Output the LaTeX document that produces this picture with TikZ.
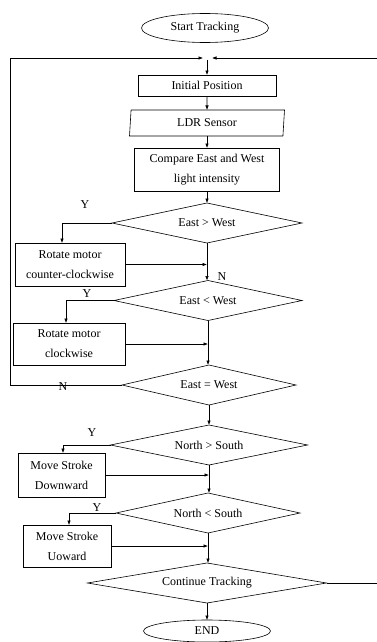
\documentclass[tikz,border=0pt]{standalone}
\usepackage{fontspec}
\setmainfont{Liberation Serif}
\usetikzlibrary{shapes.geometric,arrows.meta}
\tikzset{
  boite/.style={
    draw, line width=0.6pt,
    shape=rectangle, align=center,
    outer sep=0, inner sep=0
  },
  losange/.style={
    draw, line width=0.6pt,
    shape=diamond, aspect=5,
    outer sep=0, inner sep=0,
    minimum height=40
  },
  ovale/.style={
    draw, line width=0.6pt,
    shape=ellipse,
    outer sep=0, inner sep=0,
    minimum width=127
  },
  parallelo/.style={
    draw, line width=0.6pt,
    shape=trapezium, trapezium left angle=79, trapezium right angle=101,
    trapezium stretches body,
    outer sep=0, inner sep=0
  },
  oui/.style={inner sep=0}
}

\begin{document}
\begin{tikzpicture}[x=1pt,y=-1pt,line width=0.6pt,>={Latex[length=4.5pt,width=3.5pt]},
  every node/.style={font=\fontsize{12}{20}\selectfont}]
\useasboundingbox (0,0) rectangle (377,642);

%%%%%%%%% start and main column
\node[ovale, minimum height=29] (start) at (205,28) {Start Tracking};
\node[boite, minimum width=138, minimum height=21] (init) at (207,85.5) {Initial Position};
\node[parallelo, minimum width=155, minimum height=26] (ldr) at (207,123) {LDR Sensor};
\node[boite, minimum width=145, minimum height=43] (comp) at (207,169.5) {Compare East and West\\light intensity};

%%%east / west
\node[losange, minimum width=190] (ew1) at (207,223) {East > West};
\node[losange, minimum width=188] (ew2) at (208,300.5) {East < West};
\node[losange, minimum width=174] (ew3) at (209,385) {East = West};
\node[boite, minimum width=110, minimum height=43] (rot1) at (70,264.5) {Rotate motor\\counter-clockwise};
\node[boite, minimum width=112, minimum height=42] (rot2) at (69,344) {Rotate motor\\clockwise};

%%%north / south
\node[losange, minimum width=197] (ns1) at (209,445) {North > South};
\node[losange, minimum width=184] (ns2) at (208,513) {North < South};
\node[boite, minimum width=87, minimum height=44] (down) at (61.5,475) {Move Stroke\\Downward};
\node[boite, minimum width=88, minimum height=42] (up) at (67,546) {Move Stroke\\Uoward};

%%%end
\node[losange, minimum width=239] (ct) at (207,583) {Continue Tracking};
\node[ovale, minimum height=22] (fin) at (207,631) {END};

%%%%%%%%% loop back
\coordinate (railG) at (10,58);
\coordinate (railD) at (381,58);
\coordinate (arrG) at (203,58);
\coordinate (arrD) at (212,58);
\coordinate (depart) at (207,60);

\draw[->] (ew3.west) -| (railG) -- (arrG);
\draw[->] (ct.east) -| (railD) -- (arrD);
\draw[->] (depart) -- (init);

%%%%%%%%% main flow
\draw[->] (init) -- (ldr);
\draw[->] (ldr) -- (comp);
\draw[->] (comp) -- (ew1);
\draw[->] (ew1.south) -- (ew1.south |- ew2.north);
\draw[->] (ew2.south) -- (ew2.south |- ew3.north);
\draw[->] (ew3.south) -- (ew3.south |- ns1.north);
\draw[->] (ns1.south) -- (ns1.south |- ns2.north);
\draw[->] (ns2.south) -- (ns2.south |- ct.north);
\draw[->] (ct) -- (fin);

%%%%%%%%% yes branches
\draw[->] (ew1.west) -| ([xshift=-8]rot1.north);
\draw[->] (ew2.west) -| ([xshift=-3]rot2.north);
\draw[->] (ns1.west) -| ([xshift=1.5]down.north);
\draw[->] (ns2.west) -| ([xshift=2]up.north);

\draw[->] (rot1.east) -- (rot1.east -| ew1.south);
\draw[->] (rot2.east) -- (rot2.east -| ew2.south);
\draw[->] (down.east) -- (down.east -| ns1.south);
\draw[->] (up.east) -- (up.east -| ns2.south);

%%%labels
\node[oui] (y1) at (85,205) {Y};
\node[oui] (n1) at (222,277) {N};
\node[oui] (y2) at (87,294) {Y};
\node[oui] (n3) at (63,387) {N};
\node[oui] (y3) at (92,433) {Y};
\node[oui] (y4) at (97,508) {Y};

\end{tikzpicture}
\end{document}
